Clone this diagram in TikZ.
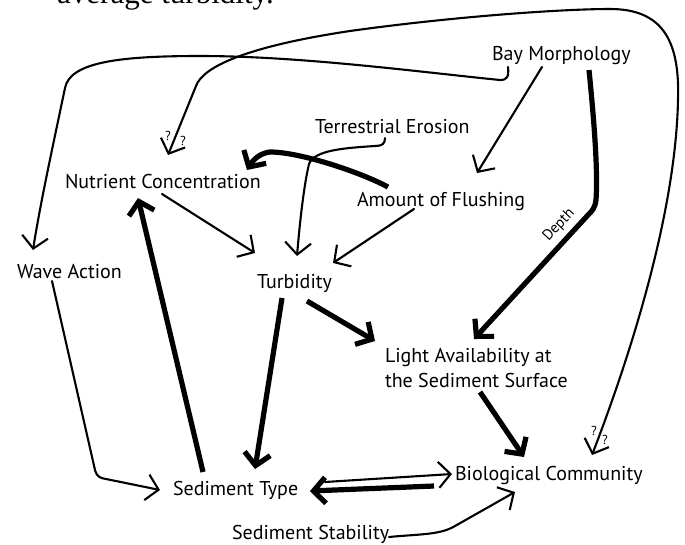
\documentclass[tikz,border=0pt]{standalone}
\usepackage{fontspec}
\setmainfont{PT Sans}
\newfontfamily\capserif{Liberation Serif}
\usetikzlibrary{arrows.meta}
\begin{document}
\begin{tikzpicture}[x=1pt,y=-1pt,
  lbl/.style={inner sep=0pt, outer sep=0pt, anchor=base west, font=\fontsize{20}{25}\selectfont},
  qm/.style={inner sep=0pt, outer sep=0pt, font=\fontsize{13}{15}\selectfont},
  tipA/.tip={Straight Barb[length=12pt,width=26pt]},
  conn/.style={line width=2.1pt, line cap=round, line join=round, -tipA},
  bold/.style={line width=5.2pt, line join=round, -tipA},
]
\useasboundingbox (0,0) rectangle (685,544);
\clip (0,0) rectangle (685,544);

% cropped caption line at the top
\node[inner sep=0pt, anchor=base west, font=\capserif\fontsize{31}{36}\selectfont] (cap) at (57,3) {average turbidity.};

% labels
\node[lbl] (bay)   at (492,60)  {Bay Morphology};
\node[lbl] (terr)  at (315,133) {Terrestrial Erosion};
\node[lbl] (nut)   at (65,188)  {Nutrient Concentration};
\node[lbl] (flush) at (357,206) {Amount of Flushing};
\node[lbl] (wave)  at (17,278)  {Wave Action};
\node[lbl] (turb)  at (257,288) {Turbidity};
\node[lbl, align=left] (light) at (385,387) {Light Availability at\\the Sediment Surface};
\node[lbl] (bio)   at (455,480) {Biological Community};
\node[lbl] (sed)   at (173,495) {Sediment Type};
\node[lbl] (stab)  at (232,539) {Sediment Stability};

\node[qm] (q1) at (168,136) {?};
\node[qm] (q2) at (183,141) {?};
\node[qm] (q3) at (594,431) {?};
\node[qm] (q4) at (605,440) {?};

\node[inner sep=0pt, rotate=47, font=\fontsize{15}{17}\selectfont] (depth) at (559,225) {Depth};

% Bay Morphology -> Wave Action
\draw[conn] ([shift={(16,7)}]bay.base west)
  .. controls (509,77) and (507,80) .. (500,80)
  .. controls (420,72) and (300,56) .. (200,56)
  .. controls (120,56) and (70,62) .. (65,88)
  .. controls (52,150) and (40,205) .. ([shift={(16,-28)}]wave.base west);

% Nutrient Concentration <-> Biological Community (uncertain)
\draw[conn, tipA-tipA]
  ([shift={(103,-33)}]nut.base west) -- (196,86)
  .. controls (203,66) and (250,46) .. (350,31)
  .. controls (450,17) and (560,9) .. (610,9)
  .. controls (662,9) and (680,40) .. (678,100)
  .. controls (676,200) and (640,330) .. ([shift={(137,-25)}]bio.base west);

% Bay Morphology -> Amount of Flushing
\draw[conn] ([shift={(50,7)}]bay.base west) -- ([shift={(120,-33)}]flush.base west);

% Bay Morphology -> Light availability (Depth)
\draw[bold] ([shift={(97,10)}]bay.base west)
  .. controls (594,120) and (598,170) .. (596,200)
  .. controls (595,208) and (592,211) .. (588,215)
  -- ([shift={(89,-48)}]light.base west);

% Terrestrial Erosion -> Turbidity
\draw[conn] ([shift={(70,5)}]terr.base west)
  .. controls (385,144) and (382,146) .. (375,146)
  .. controls (345,148) and (314,150) .. (309,164)
  .. controls (304,185) and (300,220) .. ([shift={(40,-32)}]turb.base west);

% Amount of Flushing -> Nutrient Concentration
\draw[bold] ([shift={(31,-19)}]flush.base west)
  .. controls (360,172) and (300,152) .. (270,152)
  .. controls (260,153) and (253,160) .. ([shift={(182,-18)}]nut.base west);

% Amount of Flushing -> Turbidity
\draw[conn] ([shift={(57,3)}]flush.base west) -- ([shift={(76,-25)}]turb.base west);

% Nutrient Concentration -> Turbidity
\draw[conn] ([shift={(97,6)}]nut.base west) -- ([shift={(-2,-35)}]turb.base west);

% Turbidity -> Light availability
\draw[bold] ([shift={(50,13)}]turb.base west) -- ([shift={(-10,-46)}]light.base west);

% Turbidity -> Sediment Type
\draw[bold] ([shift={(25,10)}]turb.base west) -- ([shift={(82,-26)}]sed.base west);

% Sediment Type -> Nutrient Concentration
\draw[bold] ([shift={(30,-23)}]sed.base west) -- ([shift={(73,10)}]nut.base west);

% Wave Action -> Sediment Type
\draw[conn] ([shift={(35,3)}]wave.base west) -- (95,470)
  .. controls (97,477) and (100,478) .. (106,479)
  -- ([shift={(-13,-5)}]sed.base west);

% Light availability -> Biological Community
\draw[bold] ([shift={(95,5)}]light.base west) -- ([shift={(69,-23)}]bio.base west);

% Biological Community -> Sediment Type (strong)
\draw[bold] ([shift={(-21,6)}]bio.base west) -- ([shift={(137,-4)}]sed.base west);

% Sediment Type -> Biological Community (weak)
\draw[conn] ([shift={(152,-13)}]sed.base west) -- ([shift={(-3,-6)}]bio.base west);

% Sediment Stability -> Biological Community
\draw[conn] ([shift={(157,-2)}]stab.base west)
  .. controls (420,534) and (440,535) .. (455,526)
  -- ([shift={(60,12)}]bio.base west);
\end{tikzpicture}
\end{document}
